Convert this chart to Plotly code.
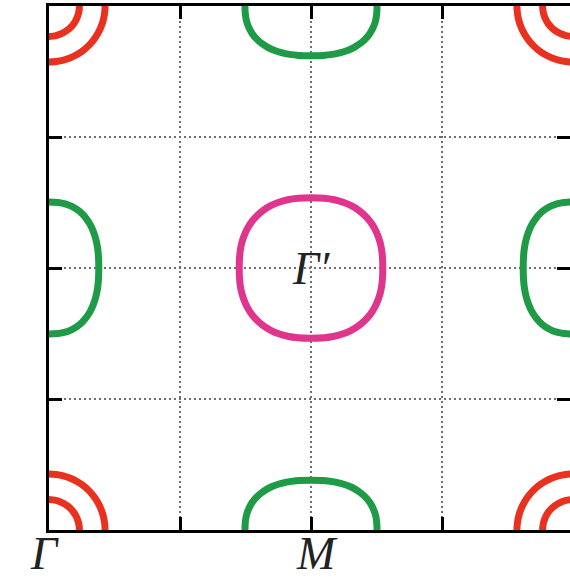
import plotly.graph_objects as go

# Brillouin-zone axis ticks (k in units of the reciprocal lattice)
BZ_TICKS = [0, 0.25, 0.5, 0.75]
BZ_TICK_TEXT = ["Γ", "", "M", ""]
BZ_Y_TICKS = [0.25, 0.5, 0.75]

# High-symmetry points where the pockets sit
GAMMA_POINTS = [(0.0, 0.0), (1.0, 0.0), (0.0, 1.0), (1.0, 1.0)]
M_POINTS_KX = [(0.5, 0.0), (0.5, 1.0)]   # pockets elongated along kx
M_POINTS_KY = [(0.0, 0.5), (1.0, 0.5)]   # pockets elongated along ky
GAMMA_PRIME = (0.5, 0.5)

# Pocket sizes (half-widths in k units)
GAMMA_RADII = [0.058, 0.107]
M_HALF_LONG = 0.126
M_HALF_SHORT = 0.095
GP_HALF_X = 0.137
GP_HALF_Y = 0.134

# First-quadrant outlines of the unit contours (every 7.5 degrees)
CIRCLE_QUADRANT = [(1.0, 0.0), (0.991, 0.131), (0.966, 0.259), (0.924, 0.383),
                   (0.866, 0.5), (0.793, 0.609), (0.707, 0.707), (0.609, 0.793),
                   (0.5, 0.866), (0.383, 0.924), (0.259, 0.966), (0.131, 0.991),
                   (0.0, 1.0)]
SQUIRCLE_QUADRANT = [(1.0, 0.0), (0.993, 0.183), (0.972, 0.324), (0.936, 0.449),
                     (0.887, 0.561), (0.825, 0.661), (0.749, 0.749), (0.661, 0.825),
                     (0.561, 0.887), (0.449, 0.936), (0.324, 0.972), (0.183, 0.993),
                     (0.0, 1.0)]

RED = "#e8321f"
GREEN = "#1f9b47"
MAGENTA = "#e0358c"
LINE_W = 7
LABEL_FONT = dict(family="Liberation Serif", size=46, color="#222222", style="italic")


def closed_loop(quadrant, cx, cy, ax, ay):
    """Mirror a first-quadrant outline into a closed contour around (cx, cy)."""
    q1 = list(quadrant)
    q2 = [(-x, y) for x, y in reversed(quadrant)][1:]
    q3 = [(-x, -y) for x, y in quadrant][1:]
    q4 = [(x, -y) for x, y in reversed(quadrant)][1:]
    pts = q1 + q2 + q3 + q4
    xs = [cx + ax * x for x, _ in pts]
    ys = [cy + ay * y for _, y in pts]
    return xs, ys


fig = go.Figure()


def add_contour(xs, ys, color):
    fig.add_trace(go.Scatter(
        x=xs, y=ys, mode="lines",
        line=dict(color=color, width=LINE_W, shape="spline", smoothing=0.8),
        hoverinfo="skip", showlegend=False,
    ))


# Hole pockets around Γ (two concentric rings at every zone corner)
for gx, gy in GAMMA_POINTS:
    for r in GAMMA_RADII:
        add_contour(*closed_loop(CIRCLE_QUADRANT, gx, gy, r, r), RED)

# Electron pockets around M
for mx, my in M_POINTS_KX:
    add_contour(*closed_loop(SQUIRCLE_QUADRANT, mx, my, M_HALF_LONG, M_HALF_SHORT), GREEN)
for mx, my in M_POINTS_KY:
    add_contour(*closed_loop(SQUIRCLE_QUADRANT, mx, my, M_HALF_SHORT, M_HALF_LONG), GREEN)

# Folded pocket around Γ'
add_contour(*closed_loop(SQUIRCLE_QUADRANT, GAMMA_PRIME[0], GAMMA_PRIME[1],
                         GP_HALF_X, GP_HALF_Y), MAGENTA)

# Invisible trace so the right-hand tick axis is drawn
fig.add_trace(go.Scatter(x=[0.5], y=[0.5], yaxis="y2", mode="markers",
                         marker=dict(opacity=0), hoverinfo="skip", showlegend=False))

fig.add_annotation(x=GAMMA_PRIME[0], y=GAMMA_PRIME[1], text="Γ′", showarrow=False,
                   font=LABEL_FONT, xanchor="center", yanchor="middle")

# High-symmetry point labels under the kx axis, kept inside the bottom margin
for kx, label in zip(BZ_TICKS, BZ_TICK_TEXT):
    if label:
        fig.add_annotation(x=kx, xref="x", y=0, yref="paper", text=label,
                           showarrow=False, font=LABEL_FONT,
                           xanchor="center", yanchor="bottom", yshift=-51,
                           xshift=-5 if kx == 0 else 6)

grid = dict(showgrid=True, gridcolor="#6e6e6e", gridwidth=2, griddash="2px,3px")

fig.update_layout(
    width=570, height=581, autosize=False,
    margin=dict(l=49, r=0, t=6, b=51, autoexpand=False),
    paper_bgcolor="white", plot_bgcolor="white",
    xaxis=dict(range=[0, 521 / 524], tickvals=BZ_TICKS, showticklabels=False,
               ticks="inside", ticklen=13, tickwidth=3, tickcolor="black",
               showline=True, linecolor="black", linewidth=3, mirror="ticks",
               zeroline=False, automargin=False, **grid),
    yaxis=dict(range=[0, 1], tickvals=BZ_Y_TICKS, showticklabels=False,
               ticks="inside", ticklen=13, tickwidth=3, tickcolor="black",
               showline=True, linecolor="black", linewidth=3, mirror=False,
               zeroline=False, automargin=False, **grid),
    yaxis2=dict(range=[0, 1], overlaying="y", side="right", tickvals=BZ_Y_TICKS,
                showticklabels=False, ticks="inside", ticklen=13, tickwidth=3,
                tickcolor="black", showline=False, showgrid=False, zeroline=False,
                automargin=False),
)

fig.write_html("out.html")
